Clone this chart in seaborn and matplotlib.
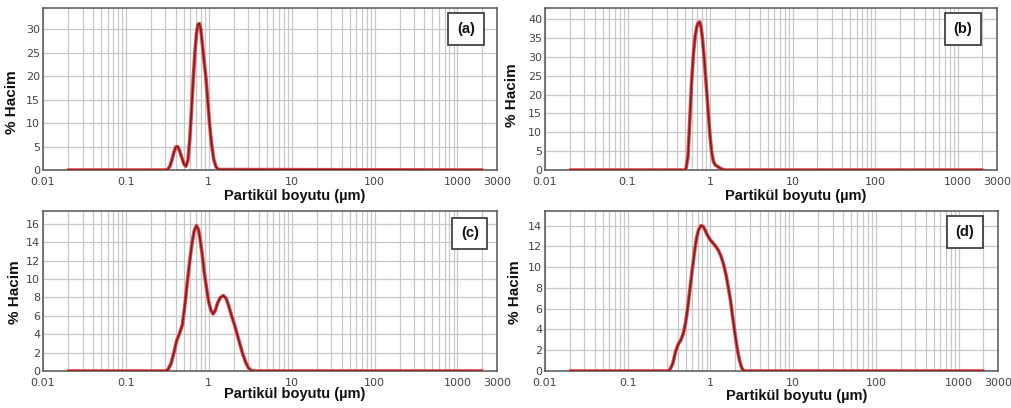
import numpy as np
import pandas as pd
import matplotlib
matplotlib.use("Agg")
import matplotlib.pyplot as plt
import seaborn as sns

# ---------------- data ----------------
size_a = [0.02, 0.30, 0.32, 0.34, 0.36, 0.38, 0.40, 0.42, 0.44, 0.47, 0.50, 0.53,
          0.56, 0.59, 0.62, 0.65, 0.68, 0.71, 0.74, 0.77, 0.80, 0.84, 0.88, 0.92,
          0.97, 1.02, 1.08, 1.15, 1.22, 1.30, 2000]
vol_a = [0, 0, 0.1, 0.8, 2.2, 3.8, 4.9, 5.0, 4.3, 2.8, 1.3, 0.8,
         2.0, 6.5, 13.0, 19.5, 25.0, 29.0, 31.0, 31.2, 30.0, 26.5, 23.0, 20.0,
         15.0, 10.0, 5.5, 2.2, 0.7, 0.1, 0]

size_b = [0.02, 0.49, 0.51, 0.54, 0.57, 0.60, 0.63, 0.66, 0.69, 0.72, 0.75, 0.78,
          0.81, 0.85, 0.90, 0.95, 1.00, 1.05, 1.10, 1.16, 1.24, 1.32, 1.42, 1.52, 2000]
vol_b = [0, 0, 0.2, 3.5, 14.0, 24.0, 31.0, 35.5, 38.0, 39.1, 39.3, 37.8,
         34.8, 29.5, 22.5, 15.5, 9.0, 4.5, 2.2, 1.3, 0.9, 0.5, 0.15, 0, 0]

size_c = [0.02, 0.30, 0.32, 0.35, 0.38, 0.41, 0.44, 0.48, 0.52, 0.55, 0.59, 0.63,
          0.67, 0.71, 0.75, 0.79, 0.83, 0.88, 0.94, 1.00, 1.06, 1.13, 1.20, 1.28,
          1.38, 1.50, 1.62, 1.75, 1.90, 2.05, 2.20, 2.38, 2.58, 2.80, 3.00, 3.25,
          3.40, 2000]
vol_c = [0, 0, 0.1, 0.8, 2.0, 3.3, 4.0, 5.0, 7.5, 9.6, 12.0, 14.0,
         15.3, 15.8, 15.4, 14.2, 12.8, 10.8, 9.0, 7.5, 6.6, 6.2, 6.6, 7.4,
         8.0, 8.2, 7.9, 7.0, 5.9, 5.0, 4.0, 2.9, 1.8, 0.9, 0.35, 0.05,
         0, 0]

size_d = [0.02, 0.30, 0.32, 0.35, 0.38, 0.41, 0.44, 0.47, 0.50, 0.53, 0.56, 0.60,
          0.64, 0.68, 0.72, 0.77, 0.82, 0.87, 0.93, 1.00, 1.08, 1.16, 1.25, 1.35,
          1.45, 1.55, 1.65, 1.75, 1.85, 1.95, 2.05, 2.15, 2.25, 2.38, 2.50, 2.60, 2000]
vol_d = [0, 0, 0.05, 0.7, 1.9, 2.6, 3.0, 3.6, 4.6, 6.0, 7.6, 9.6,
         11.4, 12.8, 13.6, 14.0, 13.9, 13.5, 13.0, 12.6, 12.3, 12.0, 11.6, 11.0,
         10.2, 9.2, 8.0, 6.8, 5.3, 4.0, 2.8, 1.8, 1.0, 0.35, 0.05, 0, 0]

panel_labels = ["(a)", "(b)", "(c)", "(d)"]
x_tick_values = [0.01, 0.1, 1, 10, 100, 1000, 3000]
x_tick_labels = ["0.01", "0.1", "1", "10", "100", "1000", "3000"]
y_limits = [34.5, 43.0, 17.4, 15.4]
y_steps = [5, 5, 2, 2]
y_maxtick = [30, 40, 16, 14]
xlabel_text = "Partikül boyutu (µm)"
ylabel_text = "% Hacim"

# ---------------- styling / layout ----------------
sns.set_style("white")
plt.rcParams["font.family"] = ["DejaVu Sans"]

fig = plt.figure(figsize=(10.11, 4.08), dpi=100)
positions = [
    [43 / 1011, 1 - 170 / 408, 454 / 1011, 162 / 408],
    [545 / 1011, 1 - 170 / 408, 452 / 1011, 162 / 408],
    [43 / 1011, 1 - 371 / 408, 454 / 1011, 160 / 408],
    [545 / 1011, 1 - 371 / 408, 453 / 1011, 160 / 408],
]
xlabel_y = [-0.16, -0.16, -0.145, -0.155]
ylabel_pos = [(-0.068, 0.42), (-0.073, 0.46), (-0.062, 0.49), (-0.066, 0.49)]
box_pos = [(0.932, 0.87), (0.925, 0.87), (0.94, 0.86), (0.927, 0.87)]

series = [(size_a, vol_a), (size_b, vol_b), (size_c, vol_c), (size_d, vol_d)]

for i, (sx, sy) in enumerate(series):
    ax = fig.add_axes(positions[i])
    df = pd.DataFrame({"size": sx, "vol": sy})
    sns.lineplot(data=df, x="size", y="vol", ax=ax, color="#e04a4a",
                 lw=2.6, sort=True, estimator=None, zorder=3)
    sns.lineplot(data=df, x="size", y="vol", ax=ax, color="#7d1c1c",
                 lw=1.1, sort=True, estimator=None, zorder=4)
    ax.set_xscale("log")
    ax.set_xlim(0.01, 3000)
    ax.set_ylim(0, y_limits[i])
    ax.set_xticks(x_tick_values)
    ax.set_xticklabels(x_tick_labels)
    ax.set_yticks(np.arange(0, y_maxtick[i] + 1, y_steps[i]))
    ax.xaxis.set_minor_locator(matplotlib.ticker.LogLocator(base=10, subs=np.arange(2, 10)))
    ax.xaxis.set_minor_formatter(matplotlib.ticker.NullFormatter())
    ax.grid(True, which="both", axis="x", color="#c8c8c8", lw=0.9)
    ax.grid(True, which="major", axis="y", color="#c8c8c8", lw=0.9)
    ax.set_axisbelow(True)
    ax.tick_params(axis="both", which="both", length=0, labelsize=8,
                   labelcolor="#444444")
    ax.tick_params(axis="x", pad=5)
    ax.tick_params(axis="y", pad=2)
    for sp in ax.spines.values():
        sp.set_color("#555555")
        sp.set_linewidth(1.1)
    ax.set_xlabel(xlabel_text, fontsize=10.5, fontweight="bold",
                  family="Liberation Sans", color="#111111")
    ax.set_ylabel(ylabel_text, fontsize=11, fontweight="bold",
                  family="Liberation Sans", color="#111111")
    ax.xaxis.label.set_va("center")
    ax.yaxis.label.set_va("center")
    ax.xaxis.set_label_coords(0.555, xlabel_y[i])
    ax.yaxis.set_label_coords(*ylabel_pos[i])
    ax.text(box_pos[i][0], box_pos[i][1], panel_labels[i], transform=ax.transAxes,
            ha="center", va="center", fontsize=10.5, fontweight="bold",
            family="Liberation Sans", color="#111111", zorder=6,
            bbox=dict(boxstyle="square,pad=0.6", fc="white", ec="#333333", lw=1.2))

fig.savefig("out.png", dpi=100, facecolor="white")
